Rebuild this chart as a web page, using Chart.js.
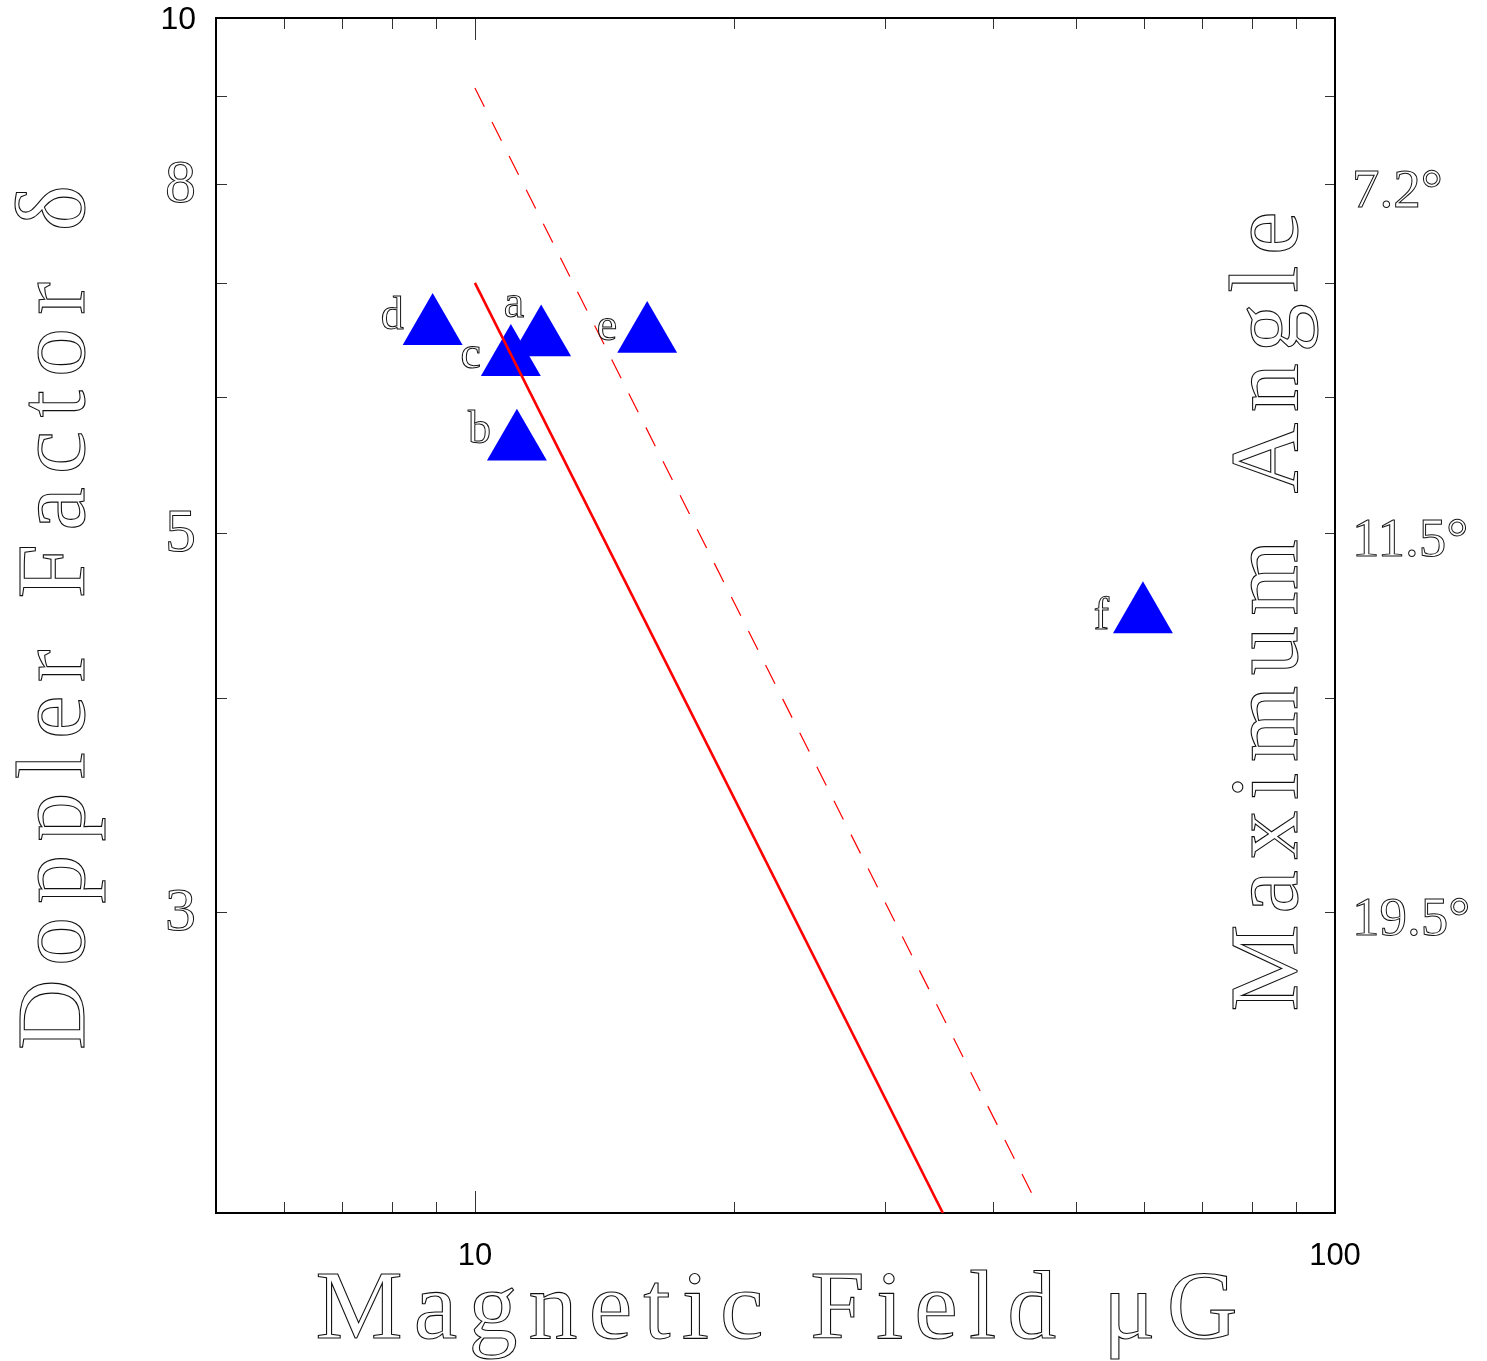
<!DOCTYPE html>
<html>
<head>
<meta charset="utf-8">
<script src="https://cdn.jsdelivr.net/npm/chart.js@4.4.1/dist/chart.umd.min.js"></script>
<style>
  html, body { margin: 0; padding: 0; background: #fff; overflow: hidden; }
  #wrap { width: 1487px; height: 1361px; }
</style>
</head>
<body>
<div id="wrap"><canvas id="myChart"></canvas></div>
<script>
// sources
const sourceNames = ['a', 'b', 'c', 'd', 'e', 'f'];
const fieldValues = [11.94, 11.19, 11.01, 8.93, 15.86, 59.8];
const dopplerValues = [6.49, 5.64, 6.32, 6.59, 6.52, 4.47];

// the two red lines (end points)
const solidLineField = [10, 35];
const solidLineDoppler = [7.0, 2.0];
const dashedLineField = [10, 44.7];
const dashedLineDoppler = [9.1, 2.04];

// axes
const fieldTicks = [6, 7, 8, 9, 10, 20, 30, 40, 50, 60, 70, 80, 90, 100];
const fieldTickLabels = [10, 100];
const dopplerTicks = [3, 4, 5, 6, 7, 8, 9, 10];
const dopplerTickLabels = [3, 5, 8, 10];
const angleTickValues = [8, 5, 3];
const angleTickLabels = ['7.2°', '11.5°', '19.5°'];

const xTitle = 'Magnetic Field μG';
const yTitle = 'Doppler Factor δ';
const y2Title = 'Maximum Angle';

const SERIF = '"Liberation Serif", "DejaVu Serif", serif';
const SANS = '"Liberation Sans", Arial, sans-serif';

const toPoints = (xs, ys) => xs.map((x, i) => ({x: x, y: ys[i]}));

// label nudges next to the triangles: [dx of right edge, dy of baseline]
const labelNudge = {a: [-17, -22], b: [-26, 0], c: [-30, 9], d: [-29, 1], e: [-30, 4], f: [-34, 13]};

const frameAndTicks = {
  id: 'frameAndTicks',
  beforeDatasetsDraw(chart) {
    const {ctx, chartArea: a, scales} = chart;
    ctx.save();
    ctx.strokeStyle = '#333';
    ctx.lineWidth = 1;
    ctx.beginPath();
    fieldTicks.forEach(v => {
      const px = Math.round(scales.x.getPixelForValue(v)) + 0.5;
      const len = (v === 10 || v === 100) ? 22 : 11;
      ctx.moveTo(px, a.bottom); ctx.lineTo(px, a.bottom - len);
      ctx.moveTo(px, a.top); ctx.lineTo(px, a.top + len);
    });
    dopplerTicks.forEach(v => {
      const py = Math.round(scales.y.getPixelForValue(v)) + 0.5;
      const len = v === 10 ? 22 : 11;
      ctx.moveTo(a.left, py); ctx.lineTo(a.left + len, py);
      ctx.moveTo(a.right, py); ctx.lineTo(a.right - (v === 10 ? 22 : 10), py);
    });
    ctx.stroke();
    ctx.strokeStyle = '#000';
    ctx.lineWidth = 2;
    ctx.strokeRect(a.left, a.top, a.right - a.left, a.bottom - a.top);
    ctx.restore();
  }
};

function spacedTitle(ctx, text, cx, cy, length, rot) {
  ctx.save();
  ctx.translate(cx, cy);
  ctx.rotate(rot);
  ctx.font = '98px ' + SERIF;
  ctx.letterSpacing = '0px';
  const w = ctx.measureText(text).width;
  ctx.letterSpacing = ((length - w) / (text.length - 1)) + 'px';
  ctx.textAlign = 'left';
  ctx.textBaseline = 'alphabetic';
  ctx.strokeStyle = '#111';
  ctx.lineWidth = 1.1;
  ctx.strokeText(text, -length / 2, 0);
  ctx.restore();
}

const titlesAndLabels = {
  id: 'titlesAndLabels',
  afterDraw(chart) {
    const {ctx, chartArea: a} = chart;
    const midX = (a.left + a.right) / 2;
    const midY = (a.top + a.bottom) / 2;
    spacedTitle(ctx, xTitle, midX + 1, a.bottom + 125, 922, 0);
    spacedTitle(ctx, yTitle, a.left - 132, midY + 2, 865, -Math.PI / 2);
    spacedTitle(ctx, y2Title, a.right - 38, midY - 4, 800, -Math.PI / 2);

    const meta = chart.getDatasetMeta(2);
    ctx.save();
    ctx.font = '46px ' + SERIF;
    ctx.textAlign = 'right';
    ctx.textBaseline = 'alphabetic';
    ctx.strokeStyle = '#111';
    ctx.lineWidth = 1;
    meta.data.forEach((pt, i) => {
      const name = sourceNames[i];
      const n = labelNudge[name];
      ctx.strokeText(name, pt.x + n[0], pt.y + n[1]);
    });
    ctx.restore();
  }
};

const isSansTick = c => c.tick && c.tick.value === 10;

new Chart(document.getElementById('myChart'), {
  type: 'scatter',
  data: {
    datasets: [
      {
        data: toPoints(solidLineField, solidLineDoppler),
        showLine: true,
        borderColor: '#ff0000',
        borderWidth: 2.6,
        pointRadius: 0,
        yAxisID: 'y'
      },
      {
        data: toPoints(dashedLineField, dashedLineDoppler),
        showLine: true,
        borderColor: '#ff0000',
        borderWidth: 1.2,
        borderDash: [21, 17],
        pointRadius: 0,
        yAxisID: 'y'
      },
      {
        data: toPoints(fieldValues, dopplerValues),
        pointStyle: 'triangle',
        pointRadius: 34.6,
        pointHoverRadius: 34.6,
        backgroundColor: '#0000ff',
        borderWidth: 0,
        yAxisID: 'y'
      }
    ]
  },
  options: {
    responsive: true,
    maintainAspectRatio: false,
    animation: false,
    events: [],
    layout: { autoPadding: false, padding: { top: 18, left: 0, right: 0, bottom: 0 } },
    plugins: { legend: { display: false }, tooltip: { enabled: false } },
    scales: {
      x: {
        type: 'logarithmic',
        position: 'bottom',
        bounds: 'data',
        min: 5,
        max: 100,
        grid: { display: false, drawTicks: false },
        border: { display: false },
        afterBuildTicks: s => { s.ticks = fieldTicks.map(v => ({value: v})); },
        afterFit: s => { s.height = 148; s.paddingLeft = 0; s.paddingRight = 0; },
        ticks: {
          autoSkip: false,
          maxRotation: 0,
          padding: 25,
          color: '#000',
          font: { family: SANS, size: 31 },
          callback: v => fieldTickLabels.includes(v) ? String(v) : ''
        }
      },
      y: {
        type: 'logarithmic',
        position: 'left',
        bounds: 'data',
        min: 2,
        max: 10,
        grid: { display: false, drawTicks: false },
        border: { display: false },
        afterBuildTicks: s => { s.ticks = dopplerTicks.map(v => ({value: v})); },
        afterFit: s => { s.width = 216; s.paddingTop = 0; s.paddingBottom = 0; },
        ticks: {
          autoSkip: false,
          padding: 20,
          labelOffset: 2,
          color: c => isSansTick(c) ? '#000' : 'rgba(0,0,0,0)',
          textStrokeColor: '#111',
          textStrokeWidth: c => isSansTick(c) ? 0 : 1,
          font: c => isSansTick(c) ? { family: SANS, size: 32, lineHeight: 0.5 } : { family: SERIF, size: 62, lineHeight: 0.5 },
          callback: v => dopplerTickLabels.includes(v) ? String(v) : ''
        }
      },
      y2: {
        type: 'logarithmic',
        position: 'right',
        bounds: 'data',
        min: 2,
        max: 10,
        grid: { display: false, drawTicks: false },
        border: { display: false },
        afterBuildTicks: s => { s.ticks = angleTickValues.map(v => ({value: v})); },
        afterFit: s => { s.width = 152; s.paddingTop = 0; s.paddingBottom = 0; },
        ticks: {
          autoSkip: false,
          padding: 17,
          labelOffset: 9,
          color: 'rgba(0,0,0,0)',
          textStrokeColor: '#111',
          textStrokeWidth: 1,
          font: { family: SERIF, size: 55, lineHeight: 0.5 },
          callback: v => angleTickLabels[angleTickValues.indexOf(v)] || ''
        }
      }
    }
  },
  plugins: [frameAndTicks, titlesAndLabels]
});
</script>
</body>
</html>
